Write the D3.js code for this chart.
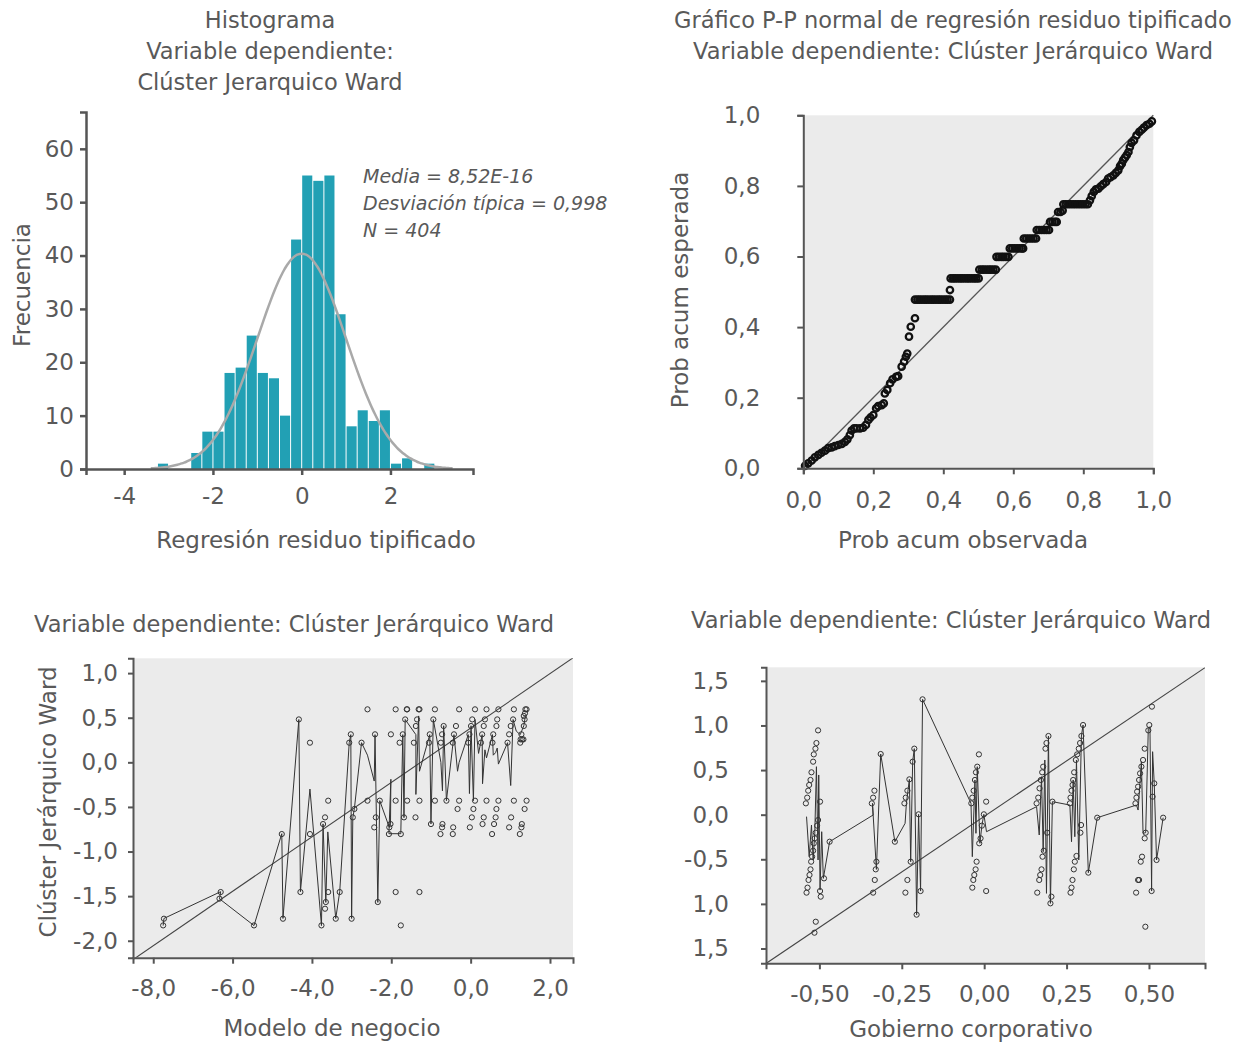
<!DOCTYPE html>
<html><head><meta charset="utf-8">
<script src="https://cdn.jsdelivr.net/npm/d3@7"></script>
<style>
body{margin:0;background:#fff}
svg text{font-family:"DejaVu Sans",sans-serif;fill:#595959}
</style></head><body>
<svg id="c" width="1256" height="1042"></svg>
<script>
// ---------- Histogram data ----------
const histBinStarts = [-3.25,-3.0,-2.75,-2.5,-2.25,-2.0,-1.75,-1.5,-1.25,-1.0,-0.75,-0.5,-0.25,0,0.25,0.5,0.75,1.0,1.25,1.5,1.75,2.0,2.25,2.5,2.75];
const histCounts    = [1,0,0,3,7,7,18,19,25,18,17,10,43,55,54,55,29,8,11,9,11,1,2,0,1];
const histBinWidth = 0.25;
const histMean = 8.52e-16, histSd = 0.998, histN = 404;
const histXTicks = [-4,-2,0,2];
const histXLabels = ["-4","-2","0","2"];
const histYTicks = [0,10,20,30,40,50,60];
const histStats = ["Media = 8,52E-16","Desviación típica = 0,998","N = 404"];
const histTitle = ["Histograma","Variable dependiente:","Clúster Jerarquico Ward"];

// ---------- P-P plot data: [observed cum prob, expected cum prob] ----------
const ppPairs = [
 [.005,.007],[.014,.014],[.024,.022],[.033,.031],[.043,.038],[.052,.044],[.062,.050],[.071,.057],[.081,.059],[.090,.063],
 [.100,.066],[.110,.069],[.119,.075],[.126,.082],[.133,.094],[.138,.107],[.145,.113],[.152,.113],[.162,.113],[.171,.115],
 [.179,.123],[.186,.137],[.192,.144],[.200,.151],[.208,.170],[.214,.176],[.224,.179],[.230,.184],[.233,.212],[.240,.222],
 [.248,.241],[.255,.252],[.265,.259],[.271,.261],[.281,.288],[.288,.302],[.293,.316],[.297,.325],[.302,.373],[.307,.401],[.319,.425],
 [.319,.478],[.326,.478],[.332,.478],[.339,.478],[.346,.478],[.352,.478],[.359,.478],[.366,.478],[.372,.478],[.379,.478],
 [.386,.478],[.392,.478],[.399,.478],[.406,.478],[.412,.478],[.419,.478],
 [.419,.505],
 [.421,.538],[.428,.538],[.434,.538],[.441,.538],[.448,.538],[.454,.538],[.461,.538],[.468,.538],[.474,.538],[.481,.538],[.488,.538],[.494,.538],[.501,.538],
 [.503,.563],[.510,.563],[.516,.563],[.523,.563],[.530,.563],[.536,.563],[.543,.563],[.550,.563],
 [.552,.599],[.559,.599],[.566,.599],[.572,.599],[.579,.599],[.586,.599],
 [.590,.623],[.597,.623],[.604,.623],[.611,.623],[.618,.623],[.625,.623],[.628,.623],
 [.630,.651],[.637,.651],[.644,.651],[.651,.651],[.658,.651],[.665,.651],
 [.667,.675],[.674,.675],[.681,.675],[.688,.675],[.695,.675],[.702,.675],
 [.705,.698],[.712,.698],[.719,.698],[.724,.698],
 [.728,.726],[.735,.726],[.741,.730],
 [.743,.748],[.750,.748],[.757,.748],[.764,.748],[.771,.748],[.778,.748],[.785,.748],[.792,.748],[.799,.748],[.806,.748],[.813,.748],
 [.819,.759],[.824,.771],[.830,.783],[.836,.790],[.843,.792],[.850,.799],[.857,.805],[.865,.811],[.871,.821],[.878,.825],
 [.886,.830],[.893,.837],[.900,.844],[.905,.856],[.910,.863],[.914,.873],[.919,.880],[.924,.887],[.929,.896],[.933,.910],
 [.938,.922],[.945,.929],[.952,.943],[.960,.953],[.967,.959],[.973,.965],[.981,.972],[.989,.976],[.996,.983]
];
const ppTicks = [0,0.2,0.4,0.6,0.8,1.0];
const ppTitle = ["Gráfico P-P normal de regresión residuo tipificado","Variable dependiente: Clúster Jerárquico Ward"];

// ---------- Bottom-left scatter: Modelo de negocio ----------
const blPoints = [
 [-2.60,.594],[-1.89,.594],[-1.61,.594],[-1.60,.594],[-1.31,.594],[-1.29,.594],[-0.90,.594],[-0.29,.594],[0.11,.594],[0.40,.594],[0.70,.594],[1.09,.594],[1.41,.594],[1.38,.594],
 [-4.33,.481],[-1.65,.481],[-1.35,.481],[-0.94,.481],[0.04,.481],[0.36,.481],[0.67,.481],[1.07,.481],[1.36,.481],[1.34,.52],[1.37,.55],
 [-1.38,.407],[-0.68,.407],[-0.37,.407],[0.01,.407],[0.33,.407],[0.65,.407],[1.01,.407],[1.34,.407],
 [-3.02,.314],[-2.41,.314],[-2.01,.314],[-1.71,.314],[-1.03,.314],[-0.72,.314],[-0.42,.314],[-0.03,.314],[0.29,.314],[0.57,.314],[0.97,.314],[1.28,.314],
 [1.26,.257],[1.30,.257],[1.33,.257],
 [-4.05,.220],[-3.06,.220],[-2.75,.220],[-1.79,.220],[-1.43,.220],[-1.05,.220],[-0.75,.220],[-0.45,.220],[-0.06,.220],[0.26,.220],[0.55,.220],[0.93,.220],[1.25,.220],
 [-3.59,-.430],[-2.60,-.430],[-2.29,-.430],[-1.89,-.430],[-1.60,-.430],[-1.29,-.430],[-0.90,-.430],[-0.61,-.430],[-0.29,-.430],[0.11,-.430],[0.40,-.430],[0.70,-.430],[1.09,-.430],[1.41,-.430],
 [-2.93,-.523],[-0.33,-.523],[0.07,-.523],[0.65,-.523],[1.36,-.523],
 [-3.67,-.617],[-2.97,-.617],[-2.39,-.617],[-1.68,-.617],[-1.39,-.617],[0.03,-.617],[0.33,-.617],[0.63,-.617],[1.02,-.617],
 [-3.72,-.692],[-2.02,-.692],[-1.00,-.692],[-0.71,-.692],[0.30,-.692],[0.59,-.692],[1.29,-.692],
 [-2.43,-.729],[-2.05,-.729],[-0.72,-.729],[-0.44,-.729],[-0.02,-.729],[0.97,-.729],[1.28,-.729],
 [-4.05,-.804],[-4.76,-.804],[-2.06,-.804],[-1.76,-.804],[-0.76,-.804],[-0.45,-.804],[0.54,-.804],[1.24,-.804],
 [-6.30,-1.454],[-4.29,-1.454],[-3.59,-1.454],[-3.30,-1.454],[-1.89,-1.454],[-1.29,-1.454],
 [-6.33,-1.528],[-3.65,-1.566],[-2.34,-1.566],[-3.67,-1.641],
 [-7.73,-1.753],[-4.73,-1.753],[-3.40,-1.753],[-3.00,-1.753],
 [-7.75,-1.828],[-5.46,-1.828],[-3.76,-1.828],[-1.76,-1.828]
];
const blLine = [
 [-7.75,-1.83],[-7.73,-1.75],[-6.30,-1.45],[-6.33,-1.53],[-5.46,-1.83],[-4.76,-0.80],[-4.73,-1.75],[-4.33,0.48],[-4.29,-1.45],
 [-4.05,-0.30],[-3.76,-1.83],[-3.72,-0.69],[-3.65,-1.57],[-3.60,-0.78],[-3.40,-1.75],[-3.30,-1.45],[-3.06,0.22],[-3.02,0.31],
 [-3.00,-1.75],[-2.97,-0.62],[-2.93,-0.52],[-2.75,0.22],[-2.60,0.08],[-2.43,-0.21],[-2.41,0.31],[-2.34,-1.57],[-2.29,-0.43],
 [-2.05,-0.73],[-2.02,-0.69],[-2.01,-0.19],[-2.06,-0.80],[-1.76,-0.80],[-1.71,0.31],[-1.68,-0.62],[-1.65,0.48],[-1.38,0.31],
 [-1.38,-0.36],[-1.31,0.52],[-1.29,-0.10],[-1.03,0.31],[-1.00,-0.69],[-0.94,0.48],[-0.75,0.0],[-0.71,-0.32],[-0.68,0.41],
 [-0.61,-0.43],[-0.42,0.31],[-0.33,-0.10],[-0.29,0.0],[-0.06,0.31],[-0.03,-0.35],[0.01,0.41],[0.07,-0.43],[0.11,0.48],
 [0.20,0.10],[0.29,0.31],[0.30,-0.24],[0.36,0.14],[0.40,0.05],[0.55,0.31],[0.57,0.08],[0.63,0.11],[0.67,0.16],[0.70,-0.02],
 [0.93,0.22],[1.01,-0.26],[1.07,0.48],[1.15,0.35],[1.25,0.31],[1.34,0.41],[1.38,0.52]
];
const blFit = {intercept: 0.384, slope: 0.305};
const blXTicks = [-8,-6,-4,-2,0,2];
const blXLabels = ["-8,0","-6,0","-4,0","-2,0","0,0","2,0"];
const blYTicks = [1,0.5,0,-0.5,-1,-1.5,-2];
const blYLabels = ["1,0","0,5","0,0","-0,5","-1,0","-1,5","-2,0"];

// ---------- Bottom-right scatter: Gobierno corporativo ----------
const brPoints = [
 [-0.504,0.945],[-0.509,0.803],[-0.512,0.740],[-0.517,0.676],[-0.519,0.594],[-0.524,0.475],[-0.527,0.389],[-0.531,0.333],[-0.534,0.269],[-0.537,0.191],[-0.541,0.127],
 [-0.498,0.146],[-0.504,-0.060],[-0.507,-0.123],[-0.511,-0.202],[-0.514,-0.265],[-0.517,-0.321],[-0.519,-0.404],[-0.522,-0.471],[-0.525,-0.527],[-0.527,-0.613],
 [-0.530,-0.676],[-0.533,-0.732],[-0.536,-0.818],[-0.539,-0.874],[-0.498,-0.856],[-0.496,-0.919],[-0.486,-0.714],[-0.469,-0.303],[-0.511,-1.200],[-0.515,-1.323],
 [-0.333,0.269],[-0.337,0.191],[-0.341,0.127],[-0.327,-0.527],[-0.329,-0.613],[-0.332,-0.732],[-0.337,-0.874],[-0.314,0.680],[-0.271,-0.303],
 [-0.227,0.396],[-0.233,0.269],[-0.238,0.191],[-0.242,0.127],[-0.217,0.594],[-0.212,0.740],[-0.223,-0.527],[-0.233,-0.732],[-0.239,-0.874],[-0.199,0.004],[-0.193,-0.856],[-0.205,-1.121],[-0.187,1.293],
 [-0.021,0.538],[-0.025,0.475],[-0.028,0.389],[-0.032,0.269],[-0.036,0.191],[-0.039,0.127],[-0.016,0.676],[0.006,0.146],[-0.001,0.004],[-0.007,-0.123],
 [-0.011,-0.265],[-0.015,-0.321],[-0.023,-0.527],[-0.026,-0.613],[-0.030,-0.676],[-0.033,-0.732],[-0.036,-0.818],[0.006,-0.856],
 [0.195,0.882],[0.189,0.803],[0.186,0.740],[0.179,0.538],[0.176,0.475],[0.172,0.389],[0.168,0.295],[0.164,0.191],[0.159,0.127],[0.191,-0.202],
 [0.181,-0.404],[0.177,-0.471],[0.174,-0.613],[0.170,-0.676],[0.167,-0.732],[0.161,-0.874],[0.204,-0.919],[0.201,-0.994],[0.207,0.146],
 [0.300,1.005],[0.295,0.882],[0.291,0.803],[0.287,0.740],[0.282,0.676],[0.278,0.613],[0.273,0.475],[0.270,0.389],[0.268,0.333],[0.265,0.269],[0.262,0.191],[0.260,0.127],
 [0.294,-0.116],[0.292,-0.202],[0.280,-0.463],[0.275,-0.527],[0.272,-0.613],[0.268,-0.732],[0.265,-0.818],[0.262,-0.874],[0.316,-0.650],[0.343,-0.034],
 [0.509,1.211],[0.501,1.005],[0.498,0.945],[0.487,0.740],[0.482,0.613],[0.477,0.538],[0.473,0.463],[0.470,0.389],[0.467,0.314],[0.464,0.258],[0.462,0.191],[0.459,0.127],
 [0.490,-0.202],[0.487,-0.265],[0.479,-0.471],[0.475,-0.527],[0.470,-0.732],[0.467,-0.732],[0.461,-0.874],[0.508,-0.856],[0.489,-1.256],[0.511,0.202],[0.516,0.351],[0.523,-0.508],[0.543,-0.034]
];
const brLine = [
 [-0.539,-0.022],[-0.531,-0.471],[-0.524,-0.116],[-0.519,-0.508],[-0.514,-0.209],[-0.509,0.538],[-0.504,-0.508],[-0.502,0.445],[-0.498,-0.845],[-0.493,-0.191],[-0.488,-0.714],[-0.469,-0.303],
 [-0.337,-0.004],[-0.339,0.127],[-0.327,-0.613],[-0.314,0.680],[-0.271,-0.303],[-0.240,-0.097],[-0.236,0.127],
 [-0.227,0.396],[-0.223,-0.527],[-0.217,0.594],[-0.212,0.740],[-0.205,-1.121],[-0.199,0.004],[-0.193,-0.856],[-0.187,1.293],
 [-0.040,0.127],[-0.036,-0.471],[-0.028,0.389],[-0.025,-0.209],[-0.021,0.538],[-0.013,-0.321],[-0.007,-0.123],[-0.001,0.004],[0.007,-0.191],
 [0.159,0.090],[0.167,-0.228],[0.174,0.426],[0.179,-0.415],[0.184,0.613],[0.189,-0.882],[0.195,0.882],[0.201,-0.994],[0.207,0.146],
 [0.260,0.108],[0.265,-0.303],[0.270,0.389],[0.275,-0.247],[0.280,0.613],[0.287,-0.508],[0.295,0.882],[0.300,1.005],[0.316,-0.650],[0.343,-0.034],
 [0.462,0.108],[0.467,0.052],[0.477,0.594],[0.482,-0.209],[0.490,-0.202],[0.498,0.968],[0.503,0.987],[0.508,-0.856],[0.511,0.706],[0.516,0.351],[0.523,-0.508],[0.543,-0.034]
];
const brFit = {intercept: -0.02, slope: 2.49};
const brXTicks = [-0.5,-0.25,0,0.25,0.5];
const brXLabels = ["-0,50","-0,25","0,00","0,25","0,50"];
const brYTicks = [1.5,1,0.5,0,-0.5,-1,-1.5];
const brYLabels = ["1,5","1,0","0,5","0,0","-0,5","1,0","1,5"];
const bottomTitle = "Variable dependiente: Clúster Jerárquico Ward";

// ---------- Drawing ----------
const svg = d3.select("#c");
const TXT = "#595959", AX = "#555";
const FS_TICK = 23, FS_TITLE = 22.5, FS_AXT = 23;

function styleAxis(g, w){
  g.attr("font-family", null).attr("font-size", null);
  g.select(".domain").attr("stroke", AX).attr("stroke-width", w);
  g.selectAll(".tick line").attr("stroke", AX).attr("stroke-width", w);
  g.selectAll(".tick text").attr("fill", TXT).style("font-size", FS_TICK + "px");
}
function centeredText(x, y, str, size, opts={}){
  const t = svg.append("text").attr("x", x).attr("y", y).attr("dy", "0.35em")
    .attr("text-anchor", opts.anchor || "middle").style("font-size", size + "px").text(str);
  if (opts.rotate) t.attr("transform", `rotate(-90,${x},${y})`);
  if (opts.italic) t.style("font-style", "italic");
  return t;
}
function fmtPP(v){ return d3.format(".1f")(v).replace(".", ","); }

// ===== Histogram =====
{
  const x = d3.scaleLinear().domain([-4.86, 3.86]).range([86, 473]);
  const y = d3.scaleLinear().domain([0, 66.9]).range([469, 112]);
  svg.append("g").selectAll("rect").data(histBinStarts.map((s,i)=>({s, c: histCounts[i]})).filter(d=>d.c>0))
    .join("rect")
    .attr("x", d => x(d.s) + 0.5)
    .attr("width", d => x(d.s + histBinWidth) - x(d.s) - 1)
    .attr("y", d => y(d.c))
    .attr("height", d => y(0) - y(d.c))
    .attr("fill", "#22a0b4");
  const norm = xv => histN * histBinWidth / (histSd * Math.sqrt(2*Math.PI)) * Math.exp(-0.5*Math.pow((xv-histMean)/histSd,2));
  const xs = d3.range(-3.4, 3.41, 0.05);
  svg.append("path").datum(xs)
    .attr("d", d3.line().x(d => x(d)).y(d => y(norm(d))).curve(d3.curveBasis))
    .attr("fill", "none").attr("stroke", "#a9a9a9").attr("stroke-width", 2.5);
  const gx = svg.append("g").attr("transform", "translate(0,469)")
    .call(d3.axisBottom(x).tickValues(histXTicks).tickFormat((d,i)=>histXLabels[i]).tickSizeOuter(0).tickSize(6).tickPadding(13));
  styleAxis(gx, 2.5);
  const gy = svg.append("g").attr("transform", "translate(86,0)")
    .call(d3.axisLeft(y).tickValues(histYTicks).tickSizeOuter(0).tickSize(6).tickPadding(6));
  styleAxis(gy, 2.5);
  histTitle.forEach((t,i) => centeredText(270, 20 + i*31, t, FS_TITLE));
  histStats.forEach((t,i) => centeredText(363, 176 + i*27, t, 19, {anchor: "start", italic: true}));
  centeredText(316, 540, "Regresión residuo tipificado", FS_AXT);
  centeredText(22, 285, "Frecuencia", FS_AXT, {rotate: true});
}

// ===== P-P plot =====
{
  const x = d3.scaleLinear().domain([0, 1]).range([803.3, 1153.3]);
  const y = d3.scaleLinear().domain([0, 1]).range([468.3, 115.3]);
  svg.append("rect").attr("x", x(0)).attr("y", y(1)).attr("width", x(1)-x(0)).attr("height", y(0)-y(1)).attr("fill", "#ebebeb");
  svg.append("line").attr("x1", x(0)).attr("y1", y(0)).attr("x2", x(1)).attr("y2", y(1))
    .attr("stroke", "#555").attr("stroke-width", 1.3);
  svg.append("g").selectAll("circle").data(ppPairs).join("circle")
    .attr("cx", d => x(d[0])).attr("cy", d => y(d[1])).attr("r", 3.2)
    .attr("fill", "none").attr("stroke", "#111").attr("stroke-width", 2.3);
  const gx = svg.append("g").attr("transform", "translate(0,468.3)")
    .call(d3.axisBottom(x).tickValues(ppTicks).tickFormat(fmtPP).tickSizeOuter(0).tickSize(6).tickPadding(17));
  styleAxis(gx, 2);
  const gy = svg.append("g").attr("transform", "translate(803.3,0)")
    .call(d3.axisLeft(y).tickValues(ppTicks).tickFormat(fmtPP).tickSizeOuter(0).tickSize(6).tickPadding(37));
  styleAxis(gy, 2);
  ppTitle.forEach((t,i) => centeredText(953, 20 + i*31, t, FS_TITLE));
  centeredText(963, 540, "Prob acum observada", FS_AXT);
  centeredText(680, 290, "Prob acum esperada", FS_AXT, {rotate: true});
}

// ===== generic scatter =====
function scatterPanel(cfg){
  const x = d3.scaleLinear().domain(cfg.xDom).range(cfg.xRange);
  const y = d3.scaleLinear().domain(cfg.yDom).range(cfg.yRange);
  const id = "clip" + cfg.key;
  svg.append("clipPath").attr("id", id).append("rect")
    .attr("x", cfg.xRange[0]).attr("y", cfg.yRange[1]).attr("width", cfg.xRange[1]-cfg.xRange[0]).attr("height", cfg.yRange[0]-cfg.yRange[1]);
  svg.append("rect").attr("x", cfg.xRange[0]).attr("y", cfg.yRange[1])
    .attr("width", cfg.xRange[1]-cfg.xRange[0]).attr("height", cfg.yRange[0]-cfg.yRange[1]).attr("fill", "#ebebeb");
  const g = svg.append("g").attr("clip-path", `url(#${id})`);
  const [x0, x1] = cfg.xDom;
  g.append("line").attr("x1", x(x0)).attr("y1", y(cfg.fit.intercept + cfg.fit.slope*x0))
    .attr("x2", x(x1)).attr("y2", y(cfg.fit.intercept + cfg.fit.slope*x1))
    .attr("stroke", "#444").attr("stroke-width", 1.1);
  g.append("path").datum(cfg.line).attr("d", d3.line().x(d=>x(d[0])).y(d=>y(d[1])))
    .attr("fill", "none").attr("stroke", "#333").attr("stroke-width", 1);
  g.append("g").selectAll("circle").data(cfg.points).join("circle")
    .attr("cx", d=>x(d[0])).attr("cy", d=>y(d[1])).attr("r", 2.6)
    .attr("fill", "none").attr("stroke", "#333").attr("stroke-width", 1);
  const gx = svg.append("g").attr("transform", `translate(0,${cfg.yRange[0]})`)
    .call(d3.axisBottom(x).tickValues(cfg.xTicks).tickFormat((d,i)=>cfg.xLabels[i]).tickSizeOuter(0).tickSize(6).tickPadding(cfg.xPad));
  styleAxis(gx, 2);
  const gy = svg.append("g").attr("transform", `translate(${cfg.xRange[0]},0)`)
    .call(d3.axisLeft(y).tickValues(cfg.yTicks).tickFormat((d,i)=>cfg.yLabels[i]).tickSizeOuter(0).tickSize(5).tickPadding(cfg.yPad));
  styleAxis(gy, 2);
  centeredText(cfg.title[0], cfg.title[1], bottomTitle, FS_TITLE);
  centeredText(cfg.xt[0], cfg.xt[1], cfg.xTitle, FS_AXT);
  if (cfg.yTitle) centeredText(cfg.yt[0], cfg.yt[1], cfg.yTitle, FS_AXT, {rotate: true});
}

scatterPanel({key:"bl", xDom:[-8.51, 2.58], xRange:[133, 573], yDom:[-2.19, 1.166], yRange:[957.7, 658.3],
  points: blPoints, line: blLine, fit: blFit, xTicks: blXTicks, xLabels: blXLabels, yTicks: blYTicks, yLabels: blYLabels,
  xPad: 16, yPad: 10, title:[294, 624], xt:[332, 1028], xTitle:"Modelo de negocio", yt:[48, 802], yTitle:"Clúster Jerárquico Ward"});

scatterPanel({key:"br", xDom:[-0.662, 0.670], xRange:[766, 1205], yDom:[-1.666, 1.652], yRange:[963.3, 667.3],
  points: brPoints, line: brLine, fit: brFit, xTicks: brXTicks, xLabels: brXLabels, yTicks: brYTicks, yLabels: brYLabels,
  xPad: 16, yPad: 32, title:[951, 620], xt:[971, 1029], xTitle:"Gobierno corporativo"});
</script></body></html>
